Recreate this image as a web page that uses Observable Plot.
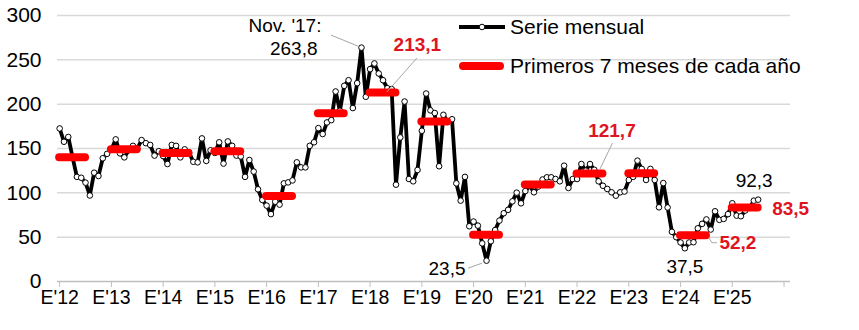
<!DOCTYPE html>
<html><head><meta charset="utf-8">
<script src="https://cdn.jsdelivr.net/npm/d3@7"></script>
<script src="https://cdn.jsdelivr.net/npm/@observablehq/plot@0.6"></script>
<style>
body{margin:0;background:#fff;}
#chart{width:859px;height:330px;}
</style></head><body><div id="chart"></div>
<script>
// Year labels (January of each year)
const yearLabels = ["E'12","E'13","E'14","E'15","E'16","E'17","E'18","E'19","E'20","E'21","E'22","E'23","E'24","E'25"];
// Monthly series, Jan 2012 .. Jul 2025
const v2012 = [172.6,157.6,163,140,118,117,111.5,97,122.7,119,139,144];
const v2013 = [149,160.3,144.5,140,148,153,150,159.5,156,154,142,147];
const v2014 = [141.5,132.5,154,153,140,149,145.6,135,134.4,161.4,136,148];
const v2015 = [145,157,133,158,153,142,141,118,137,124,104,92];
const v2016 = [85.6,76,90,86.7,110.7,111.8,114,134.4,128.7,128.7,153,157];
const v2017 = [173,166.3,179.4,182,214.3,192.6,220.7,227,195.6,223.7,263.8,208.3];
const v2018 = [239.5,245.9,234.6,227,218,217,109.2,162.5,203,115.6,113,125.8];
const v2019 = [170,212,193,190,130,188,180,183,110.7,91.2,118,62.3];
const v2020 = [67.6,63,43,23.5,45.4,58,68.7,77,80.8,90.4,100.2,88.2];
const v2021 = [102,108,100.6,107,115,117.5,117.5,115.6,113,130.6,105.5,115.6];
const v2022 = [115.6,132.5,125,132.5,126,113,108,104.4,100.6,96.8,100.6,101.5];
const v2023 = [114.5,118,136.3,127,114.5,127,114.5,83.7,111,83.5,56,50];
const v2024 = [44,37.5,44,44.3,60,65,70,58.6,79.2,69.5,70.6,76];
const v2025 = [88.2,74.3,73.6,80,83,91.2,92.3];
// Average of the first 7 months of each year
const firstSevenAvg = [140,149.2,145,147,96.4,189.8,213.1,180.4,52.7,109.5,121.7,122,52.2,83.5];
const yTicks = [0,50,100,150,200,250,300];
const peakLabel = "Nov. '17:";
const legendLabels = ["Serie mensual","Primeros 7 meses de cada año"];

const monthly = [].concat(v2012,v2013,v2014,v2015,v2016,v2017,v2018,v2019,v2020,v2021,v2022,v2023,v2024,v2025);
const series = monthly.map((v,i)=>({i, v}));
const bars = firstSevenAvg.map((v,k)=>({a:k*12, b:k*12+6, v}));
const fmt = v => d3.format(".1f")(v).replace(".", ",");

const font = "'Liberation Sans', Arial, sans-serif";
const RED = "#ff0000", RED_TXT = "#e0141e", GRID = "#d9d9d9";

const peak = series[70], covid = series[99], low24 = series[145], last = series[162];

const plot = Plot.plot({
  width: 859, height: 330,
  marginLeft: 57, marginRight: 69, marginTop: 15, marginBottom: 49,
  style: {fontFamily: font, fontSize: "18px", color: "#000", background: "#fff", overflow: "visible"},
  x: {domain: [-0.5, 169.5], axis: null},
  y: {domain: [0, 300], axis: null},
  marks: [
    Plot.ruleY(yTicks.filter(d => d > 0), {stroke: GRID, strokeWidth: 1.5}),
    Plot.ruleY([0], {stroke: "#bfbfbf", strokeWidth: 1.5}),
    Plot.axisY({ticks: yTicks, tickSize: 0, tickPadding: 16, fontSize: 21, label: null}),
    Plot.axisX({ticks: d3.range(0, 169, 12), tickFormat: i => yearLabels[i/12] ?? "", tickSize: 6, tickPadding: 3, stroke: "#bfbfbf", fill: "#000", fontSize: 19.5, label: null}),
    Plot.line(series, {x: "i", y: "v", stroke: "#000", strokeWidth: 3.8}),
    Plot.dot(series, {x: "i", y: "v", r: 2.8, fill: "#fff", stroke: "#000", strokeWidth: 1}),
    Plot.ruleY(bars, {x1: "a", x2: "b", y: "v", stroke: RED, strokeWidth: 8, strokeLinecap: "round"}),
    // annotations
    Plot.text([peak], {x: "i", y: "v", text: () => peakLabel, dx: -40, dy: -22, textAnchor: "end", fontSize: 19}),
    Plot.text([peak], {x: "i", y: "v", text: d => fmt(d.v), dx: -44, dy: 1, textAnchor: "end", fontSize: 19}),
    Plot.text([covid], {x: "i", y: "v", text: d => fmt(d.v), dx: -21, dy: 8, textAnchor: "end", fontSize: 19}),
    Plot.text([low24], {x: "i", y: "v", text: d => fmt(d.v), dy: 19, fontSize: 19}),
    Plot.text([last], {x: "i", y: "v", text: d => fmt(d.v), dx: -4, dy: -19, fontSize: 19}),
    Plot.text([bars[6]], {x: d => (d.a + d.b) / 2 + 1, y: "v", text: d => fmt(d.v), dx: 30, dy: -48, fill: RED_TXT, fontWeight: "bold", fontSize: 19}),
    Plot.text([bars[10]], {x: "b", y: "v", text: d => fmt(d.v), dx: 9, dy: -43, fill: RED_TXT, fontWeight: "bold", fontSize: 19}),
    Plot.text([bars[12]], {x: "b", y: "v", text: d => fmt(d.v), dx: 13, dy: 8, textAnchor: "start", fill: RED_TXT, fontWeight: "bold", fontSize: 19}),
    Plot.text([bars[13]], {x: "b", y: "v", text: d => fmt(d.v), dx: 14, dy: 1, textAnchor: "start", fill: RED_TXT, fontWeight: "bold", fontSize: 19})
  ]
});

const svg = d3.select(plot);
const X = plot.scale("x").apply, Y = plot.scale("y").apply;
const g = svg.append("g").attr("fill", "none").attr("stroke", "#a6a6a6").attr("stroke-width", 1);
// leader lines
const leader = pts => g.append("polyline").attr("points", pts.map(p => p.join(",")).join(" "));
let px = X(peak.i), py = Y(peak.v);
leader([[px - 30, py - 12], [px - 3, py - 1]]);
px = X((bars[6].a + bars[6].b) / 2 + 1); py = Y(bars[6].v);
leader([[px, py], [px + 30, py - 34]]);
px = X(bars[10].b); py = Y(bars[10].v);
leader([[px - 3, py - 3], [px + 10, py - 30]]);
px = X(covid.i); py = Y(covid.v);
leader([[px - 18, py + 8], [px - 4, py + 3]]);
px = X(bars[12].b); py = Y(bars[12].v);
leader([[px + 3, py + 3], [px + 6, py + 8], [px + 11, py + 8]]);

// legend
const lg = svg.append("g").attr("font-family", font).attr("font-size", 21).attr("text-anchor", "start");
lg.append("line").attr("x1", 459).attr("x2", 505).attr("y1", 27).attr("y2", 27).attr("stroke", "#000").attr("stroke-width", 3.8);
lg.append("circle").attr("cx", 482).attr("cy", 27).attr("r", 2.8).attr("fill", "#fff").attr("stroke", "#000");
lg.append("text").attr("x", 510).attr("y", 27).attr("dy", "0.35em").text(legendLabels[0]);
lg.append("line").attr("x1", 463).attr("x2", 500).attr("y1", 66).attr("y2", 66).attr("stroke", RED).attr("stroke-width", 8).attr("stroke-linecap", "round");
lg.append("text").attr("x", 510).attr("y", 66).attr("dy", "0.35em").text(legendLabels[1]);

document.getElementById("chart").appendChild(plot);
</script>
</body></html>
